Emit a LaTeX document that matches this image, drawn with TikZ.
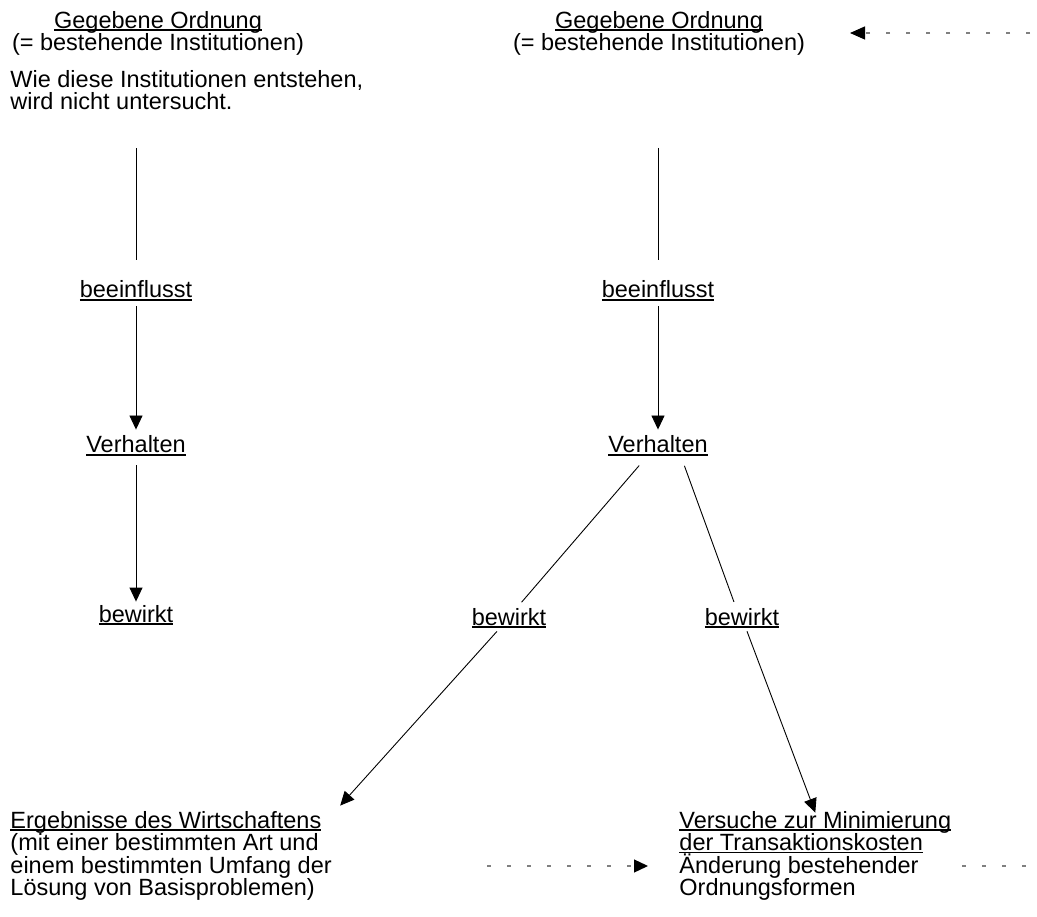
\documentclass[tikz,border=0pt]{standalone}
\usepackage{fontspec}
\setmainfont{Liberation Sans}
\usetikzlibrary{arrows.meta}

\newcommand\schrift{\fontsize{23.5}{22.5}\selectfont}
\newcommand\unterstr[1]{\setbox0\hbox{#1}\rlap{\rule[-2.6pt]{\wd0}{1.3pt}}\box0}

\begin{document}
\begin{tikzpicture}[
  x=1pt, y=-1pt,
  line width=0.9pt,
  wort/.style={inner sep=0pt, font=\schrift, text height=17pt, text depth=3pt},
  block/.style={inner sep=0pt, font=\schrift, align=left},
  pfeil/.style={-{Triangle[length=14pt,width=13pt]}},
  rueck/.style={gray, line width=1.3pt, dash pattern=on 4pt off 16pt},
  node distance=155pt
]
\useasboundingbox (0,0) rectangle (1037,917);

% linke Seite
\node[block, align=center, anchor=north] (kopfL) at (158,10.6) {\unterstr{Gegebene Ordnung}\\(= bestehende Institutionen)};
\node[block, anchor=north west] (frageL) at (10,69.8) {Wie diese Institutionen entstehen,\\wird nicht untersucht.};
\node[wort, anchor=base] (beeinflL) at (136,298) {\unterstr{beeinflusst}};
\node[wort, below of=beeinflL] (verhL) {\unterstr{Verhalten}};
\node[wort, below of=verhL, node distance=169pt] (bewL) {\unterstr{bewirkt}};

% rechte Seite
\node[block, align=center, anchor=north] (kopfR) at (659,10.6) {\unterstr{Gegebene Ordnung}\\(= bestehende Institutionen)};
\node[wort, anchor=base] (beeinflR) at (658,298) {\unterstr{beeinflusst}};
\node[wort, below of=beeinflR] (verhR) {\unterstr{Verhalten}};
\node[wort, anchor=base] (bewRL) at (509,625) {\unterstr{bewirkt}};
\node[wort, anchor=base] (bewRR) at (742,625) {\unterstr{bewirkt}};
\node[block, anchor=north west] (ergebnis) at (10,810.6) {\unterstr{Ergebnisse des Wirtschaftens}\\(mit einer bestimmten Art und\\einem bestimmten Umfang der\\Lösung von Basisproblemen)};
\node[block, anchor=north west] (versuche) at (679,810.6) {\unterstr{Versuche zur Minimierung}\\\unterstr{der Transaktionskosten}\\Änderung bestehender\\Ordnungsformen};

% Rueckkopplung
\coordinate (rueckA) at (1030,33);
\coordinate (rueckB) at (850,33);
\coordinate (schleifeA) at (487,866);
\coordinate (schleifeB) at (648,866);
\coordinate (weiterA) at (962,866);
\coordinate (weiterB) at (1030,866);

\draw[shorten <=38pt, shorten >=21pt] (frageL.south -| beeinflL) -- (beeinflL);
\draw[pfeil, shorten <=5pt, shorten >=6pt] (beeinflL) -- (verhL);
\draw[pfeil, shorten <=9pt, shorten >=3pt] (verhL) -- (bewL);

\draw[shorten <=92pt, shorten >=21pt] (kopfR.south -| beeinflR) -- (beeinflR);
\draw[pfeil, shorten <=5pt, shorten >=6pt] (beeinflR) -- (verhR);
\draw[shorten <=12pt, shorten >=7pt] ([xshift=-11pt]verhR.south) -- ([xshift=8pt]bewRL.north);
\draw[shorten <=10pt, shorten >=6pt] ([xshift=23pt]verhR.south) -- ([xshift=-6pt]bewRR.north);
\draw[pfeil, shorten <=4pt] (bewRL) -- ([xshift=8pt,yshift=5pt]ergebnis.north east);
\draw[pfeil, shorten <=3pt] (bewRR) -- ([yshift=-2pt]versuche.north);

\draw[rueck, -{Triangle[length=15pt,width=13pt,color=black]}] (rueckA) -- (rueckB);
\draw[rueck, -{Triangle[length=14pt,width=13pt,color=black]}] (schleifeA) -- (schleifeB);
\draw[rueck] (weiterA) -- (weiterB);
\end{tikzpicture}
\end{document}
